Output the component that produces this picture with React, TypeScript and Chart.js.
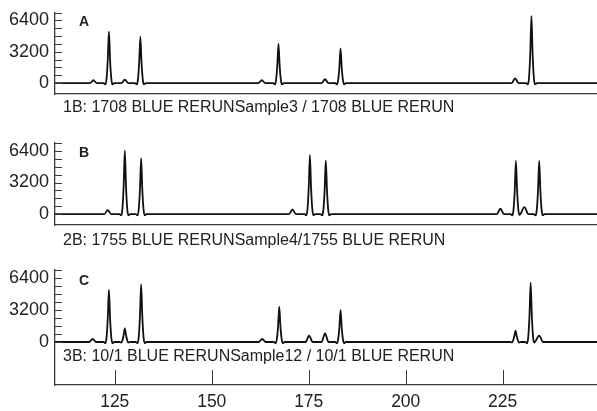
import React, { useEffect, useRef } from "react";
import { Chart, registerables } from "chart.js";

Chart.register(...registerables);

// ---------- data ----------
const xMin = 109.6;
const xMax = 249.3;
const xTickValues = [125, 150, 175, 200, 225];
const yTickValues = [0, 800, 1600, 2400, 3200, 4000, 4800, 5600, 6400, 7200];
const yLabelValues = [0, 3200, 6400];

const panelLetters = ["A", "B", "C"];
const panelSubtitles = [
  "1B: 1708 BLUE RERUNSample3 / 1708 BLUE RERUN",
  "2B: 1755 BLUE RERUNSample4/1755 BLUE RERUN",
  "3B: 10/1 BLUE RERUNSample12 / 10/1 BLUE RERUN",
];

const traceAX = [
  109.6,
  118.6, 119.5, 120.4,
  122.1, 122.6, 122.9, 123.2, 123.5, 123.8, 124.1, 124.4, 124.9,
  126.7, 127.6, 128.5,
  130.2, 130.7, 131.0, 131.3, 131.6, 131.9, 132.2, 132.5, 133.0,
  162.0, 162.9, 163.8,
  165.8, 166.3, 166.6, 166.9, 167.2, 167.5, 167.8, 168.1, 168.6,
  178.3, 179.2, 180.1,
  181.8, 182.3, 182.6, 182.9, 183.2, 183.5, 183.8, 184.1, 184.6,
  227.3, 228.2, 229.1,
  231.0, 231.5, 231.8, 232.1, 232.4, 232.7, 233.0, 233.3, 233.8,
  249.3,
];
const traceAY = [
  0,
  0, 300, 0,
  0, -120, 520, 2360, 5240, 2360, 520, -120, 0,
  0, 350, 0,
  0, -120, 470, 2130, 4740, 2130, 470, -120, 0,
  0, 300, 0,
  0, -120, 400, 1800, 3990, 1800, 400, -120, 0,
  0, 400, 0,
  0, -120, 360, 1600, 3550, 1600, 360, -120, 0,
  0, 500, 0,
  0, -120, 680, 3080, 6840, 3080, 680, -120, 0,
  0,
];

const traceBX = [
  109.6,
  122.3, 123.2, 124.1,
  126.2, 126.7, 127.0, 127.3, 127.6, 127.9, 128.2, 128.5, 129.0,
  130.4, 130.9, 131.2, 131.5, 131.8, 132.1, 132.4, 132.7, 133.2,
  169.9, 170.8, 171.7,
  173.9, 174.4, 174.7, 175.0, 175.3, 175.6, 175.9, 176.2, 176.7,
  178.0, 178.5, 178.8, 179.1, 179.4, 179.7, 180.0, 180.3, 180.8,
  223.5, 224.4, 225.3,
  227.0, 227.5, 227.8, 228.1, 228.4, 228.7, 229.0, 229.3,
  230.6, 231.6,
  233.0, 233.5, 233.8, 234.1, 234.4, 234.7, 235.0, 235.3, 235.8,
  249.3,
];
const traceBY = [
  0,
  0, 400, 0,
  0, -120, 640, 2890, 6420, 2890, 640, -120, 0,
  0, -120, 570, 2540, 5650, 2540, 570, -120, 0,
  0, 470, 0,
  0, -120, 600, 2690, 5980, 2690, 600, -120, 0,
  0, -120, 540, 2430, 5410, 2430, 540, -120, 0,
  0, 560, 0,
  0, -120, 540, 2430, 5390, 2430, 540, -80,
  700, 0,
  0, -120, 540, 2430, 5390, 2430, 540, -120, 0,
  0,
];

const traceCX = [
  109.6,
  118.4, 119.3, 120.2,
  122.1, 122.6, 122.9, 123.2, 123.5, 123.8, 124.1, 124.4, 124.9,
  126.2, 126.7, 127.0, 127.3, 127.6, 127.9, 128.2, 128.5, 129.0,
  130.4, 130.9, 131.2, 131.5, 131.8, 132.1, 132.4, 132.7, 133.2,
  162.1, 163.0, 163.9,
  166.0, 166.5, 166.8, 167.1, 167.4, 167.7, 168.0, 168.3, 168.8,
  174.2, 175.1, 176.0,
  178.3, 179.2, 180.1,
  181.8, 182.3, 182.6, 182.9, 183.2, 183.5, 183.8, 184.1, 184.6,
  226.9, 227.4, 227.7, 228.0, 228.3, 228.6, 228.9, 229.2, 229.7,
  230.8, 231.3, 231.6, 231.9, 232.2, 232.5, 232.8, 233.1,
  234.4, 235.4,
  249.3,
];
const traceCY = [
  0,
  0, 300, 0,
  0, -120, 520, 2340, 5200, 2340, 520, -120, 0,
  0, -60, 200, 700, 1370, 700, 200, -60, 0,
  0, -120, 580, 2600, 5770, 2600, 580, -120, 0,
  0, 300, 0,
  0, -120, 350, 1590, 3530, 1590, 350, -120, 0,
  0, 630, 0,
  0, 870, 0,
  0, -120, 320, 1440, 3200, 1440, 320, -120, 0,
  0, -60, 170, 600, 1130, 600, 170, -60, 0,
  0, -120, 590, 2670, 5930, 2670, 590, -60,
  630, 0,
  0,
];

// ---------- layout / style ----------
const FONT = '"Liberation Sans", Arial, Helvetica, sans-serif';
const AXIS_COLOR = "#3a3a3a";
const TRACE_COLOR = "#111111";

type PanelCfg = {
  top: number;
  height: number;
  padTop: number;
  xHeight: number;
  yMin: number;
  xs: number[];
  ys: number[];
  showX: boolean;
  letterTop: number;
  subTop: number;
};

const panels: PanelCfg[] = [
  { top: 0, height: 130, padTop: 12.5, xHeight: 36, yMin: -1100, xs: traceAX, ys: traceAY, showX: false, letterTop: 13, subTop: 98 },
  { top: 130, height: 130, padTop: 13, xHeight: 35, yMin: -1100, xs: traceBX, ys: traceBY, showX: false, letterTop: 144, subTop: 231 },
  { top: 260, height: 151, padTop: 10, xHeight: 26, yMin: -4300, xs: traceCX, ys: traceCY, showX: true, letterTop: 272, subTop: 346.5 },
];

const inwardTicks = {
  id: "inwardTicks",
  afterDraw(chart: any, _args: any, opts: any) {
    const ctx = chart.ctx;
    const { left, bottom } = chart.chartArea;
    const ys = chart.scales.y;
    ctx.save();
    ctx.strokeStyle = AXIS_COLOR;
    ctx.lineWidth = 1;
    ys.ticks.forEach((t: any) => {
      const py = Math.round(ys.getPixelForValue(t.value)) + 0.5;
      ctx.beginPath();
      ctx.moveTo(left, py);
      ctx.lineTo(left + 7, py);
      ctx.stroke();
    });
    if (opts && opts.xTicks) {
      const xs = chart.scales.x;
      xs.ticks.forEach((t: any) => {
        const px = Math.round(xs.getPixelForValue(t.value)) + 0.5;
        ctx.beginPath();
        ctx.moveTo(px, bottom);
        ctx.lineTo(px, bottom - 15);
        ctx.stroke();
      });
    }
    ctx.restore();
  },
};

export default function App() {
  const refs = [useRef<HTMLCanvasElement>(null), useRef<HTMLCanvasElement>(null), useRef<HTMLCanvasElement>(null)];

  useEffect(() => {
    const charts: Chart[] = panels.map((p, idx) => {
      const canvas = refs[idx].current as HTMLCanvasElement;
      return new Chart(canvas, {
        type: "line",
        data: {
          datasets: [
            {
              data: p.xs.map((x, i) => ({ x, y: p.ys[i] })),
              borderColor: TRACE_COLOR,
              borderWidth: 1.8,
              pointRadius: 0,
              cubicInterpolationMode: "monotone",
              fill: false,
            } as any,
          ],
        },
        options: {
          animation: false,
          responsive: false,
          devicePixelRatio: 1,
          layout: { padding: { top: p.padTop, left: 0, right: 0, bottom: 0 } },
          plugins: {
            legend: { display: false },
            tooltip: { enabled: false },
            title: { display: false },
            inwardTicks: { xTicks: p.showX },
          } as any,
          scales: {
            x: {
              type: "linear",
              min: xMin,
              max: xMax,
              grid: { display: false, drawTicks: false },
              border: { display: true, color: AXIS_COLOR, width: 1.3 },
              ticks: {
                display: p.showX,
                padding: 7,
                autoSkip: false,
                maxRotation: 0,
                color: "#222",
                font: { family: FONT, size: 17.5 },
              },
              afterBuildTicks: (s: any) => {
                s.ticks = xTickValues.map((v) => ({ value: v }));
              },
              afterFit: (s: any) => {
                s.height = p.xHeight;
                s.paddingLeft = 0;
                s.paddingRight = 0;
              },
            },
            y: {
              type: "linear",
              min: p.yMin,
              max: 7200,
              grid: { display: false, drawTicks: false },
              border: { display: true, color: AXIS_COLOR, width: 1.3 },
              ticks: {
                padding: 6,
                autoSkip: false,
                color: "#222",
                font: { family: FONT, size: 18 },
                callback: (v: any) => (yLabelValues.includes(Number(v)) ? String(v) : ""),
              },
              afterBuildTicks: (s: any) => {
                s.ticks = yTickValues.map((v) => ({ value: v }));
              },
              afterFit: (s: any) => {
                s.width = 55;
                s.paddingTop = 0;
                s.paddingBottom = 0;
              },
            },
          } as any,
        },
        plugins: [inwardTicks as any],
      });
    });
    return () => charts.forEach((c) => c.destroy());
  }, []);

  return (
    <div style={{ position: "absolute", left: 0, top: 0, width: 597, height: 411, background: "#fff", overflow: "hidden" }}>
      {panels.map((p, i) => (
        <React.Fragment key={i}>
          <canvas
            ref={refs[i]}
            width={597}
            height={p.height}
            style={{ position: "absolute", left: 0, top: p.top, width: 597, height: p.height }}
          />
          <div
            style={{
              position: "absolute",
              left: 79,
              top: p.letterTop,
              font: `bold 14px ${FONT}`,
              lineHeight: "16px",
              color: "#222",
            }}
          >
            {panelLetters[i]}
          </div>
          <div
            style={{
              position: "absolute",
              left: 63,
              top: p.subTop,
              font: `16px ${FONT}`,
              lineHeight: "18px",
              color: "#222",
              whiteSpace: "nowrap",
            }}
          >
            {panelSubtitles[i]}
          </div>
        </React.Fragment>
      ))}
    </div>
  );
}
